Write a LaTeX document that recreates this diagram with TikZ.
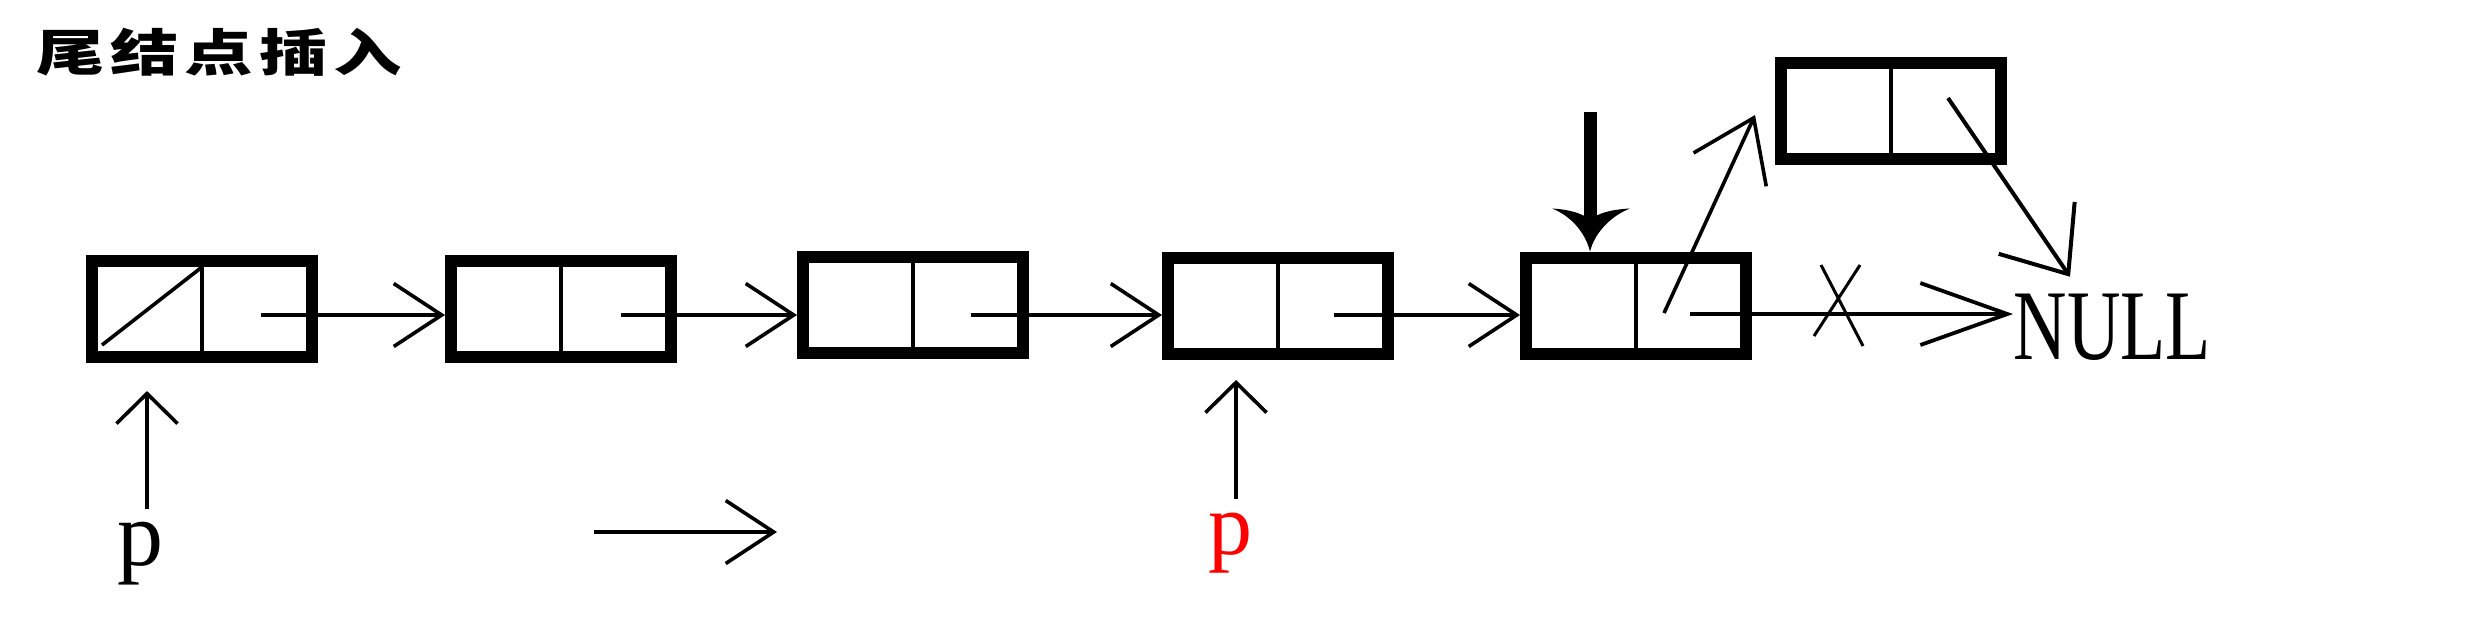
\documentclass[tikz,border=0pt]{standalone}
\usepackage{fontspec}
\setmainfont{Liberation Serif}
\newfontfamily\cjk{Noto Sans CJK SC}
\usetikzlibrary{arrows.meta,calc}
\begin{document}
\begin{tikzpicture}[x=0.25pt,y=-0.25pt,
  listnode/.style={draw, line width=3pt, minimum width=55pt, minimum height=24pt, inner sep=0pt},
  divider/.style={line width=0.9pt},
  thinline/.style={line width=0.9pt},
  link/.style={line width=0.9pt, -{Straight Barb[length=12pt,width=15.75pt]}},
  uplink/.style={line width=0.9pt, -{Straight Barb[length=7.5pt,width=15.25pt]}},
  newlink/.style={line width=0.9pt, -{Straight Barb[length=14.25pt,width=20pt]}},
  nulllink/.style={line width=1pt, -{Straight Barb[length=14pt,width=23pt]}},
  longlink/.style={line width=0.95pt, -{Straight Barb[length=21.75pt,width=15.5pt]}},
  ptrlabel/.style={anchor=base, inner sep=0pt}
]
\useasboundingbox (0,0) rectangle (2480,635);

% title
\node[anchor=base west, inner sep=0pt, font=\cjk\bfseries\fontsize{18pt}{18pt}\selectfont] (title) at (36,71)
  {\scalebox{0.95}[0.7]{尾\hspace{1.5pt}结\hspace{1.5pt}点\hspace{1.5pt}插\hspace{1.5pt}入}};

% list nodes
\node[listnode] (n1) at (202,309) {};
\node[listnode] (n2) at (561,309) {};
\node[listnode] (n3) at (913,305) {};
\node[listnode] (n4) at (1278,306) {};
\node[listnode] (n5) at (1636,305.5) {};
\node[listnode] (n6) at (1891,111) {};
\foreach \n in {n1,n2,n3,n4,n5,n6}
  \draw[divider] (\n.north) -- (\n.south);

% null pointer slash in head node
\draw[thinline] ($(n1.south west)+(16,-18)$) -- ($(n1.north)+(0,12)$);

% NULL
\node[anchor=base west, inner sep=0pt, font=\fontsize{25pt}{25pt}\selectfont] (null) at (2013,359) {\scalebox{0.74}[1]{NULL}};

% pointer links
\coordinate (s1) at (261,315);
\coordinate (s2) at (621,315);
\coordinate (s3) at (971,315);
\coordinate (s4) at (1334,315);
\draw[link] (s1) -- (s1 -| n2.west);
\draw[link] (s2) -- (s2 -| n3.west);
\draw[link] (s3) -- (s3 -| n4.west);
\draw[link] (s4) -- (s4 -| n5.west);

% old link of tail node to NULL, crossed out
\coordinate (s5) at (1690,314);
\draw[longlink] (s5) -- (s5 -| null.west);
\draw[line width=0.75pt] (1821,265) -- (1863,346) (1860,265) -- (1814,336);

% new links
\coordinate (t5) at (1664,313);
\draw[newlink] (t5) -- ($(n6.west)+(-20,4)$);
\coordinate (t6) at ($(n6.center)+(57,-13)$);
\draw[nulllink] (t6) -- ($(null.north west)+(57,-16)$);

% bold arrow onto tail node
\coordinate (b0) at (1590,112);
\coordinate (b1) at (b0 |- n5.north);
\draw[line width=3.25pt] (b0) -- ($(b1)+(0,-32)$);
\fill[shift={(b1)}] (0,0) .. controls (-5,-20) and (-20,-36) .. (-38,-43)
  .. controls (-20,-42) and (-8,-38) .. (0,-32)
  .. controls (8,-38) and (20,-42) .. (40,-43)
  .. controls (22,-36) and (5,-20) .. (0,0) -- cycle;

% pointer p (before)
\node[ptrlabel, font=\fontsize{23pt}{23pt}\selectfont] (p1) at (140,565) {p};
\coordinate (q1a) at (147,509);
\coordinate (q1b) at (147,391);
\draw[uplink] (q1a) -- (q1b);

% move arrow
\coordinate (m0) at (594,532);
\coordinate (m1) at (777,532);
\draw[link] (m0) -- (m1);

% pointer p (after)
\node[ptrlabel, text=red, font=\fontsize{22pt}{22pt}\selectfont] (p2) at (1230,554) {p};
\coordinate (q2a) at (1236,499);
\coordinate (q2b) at (1236,380);
\draw[uplink] (q2a) -- (q2b);
\end{tikzpicture}
\end{document}
